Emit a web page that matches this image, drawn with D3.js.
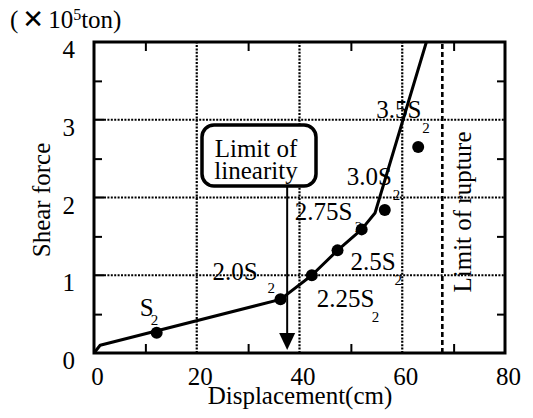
<!DOCTYPE html>
<html>
<head>
<meta charset="utf-8">
<script src="https://cdn.jsdelivr.net/npm/d3@7/dist/d3.min.js"></script>
<style>
body{margin:0;background:#fff}
text{font-family:"Liberation Serif","Times New Roman",serif;fill:#000}
</style>
</head>
<body>
<div id="chart"></div>
<script>

// -----------------------------
// DATA
// -----------------------------

const xTicks = [0,20,40,60,80]
const yTicks = [0,1,2,3,4]
const xMinor = [10,30,50,70]
const yMinor = [0.5,1.5,2.5,3.5]
const xGrid = [20,40,60]
const yGrid = [1,2,3]

// load curve
const curveX = [0,1.2,36.3,42.4,47.4,52.1,54.7,64.7]
const curveY = [0,0.10,0.69,1.00,1.32,1.59,1.80,4.0]

// measured points
const pointLabel = ["S","2.0S","2.25S","2.5S","2.75S","3.0S","3.5S"]
const pointX = [12.2,36.3,42.4,47.4,52.1,56.6,63.1]
const pointY = [0.26,0.69,1.00,1.32,1.59,1.84,2.65]

const linearityX = 37.6
const ruptureX = 67.8

// label offsets in px from each point: [textDx,textDy,subDx,subDy]
const labelOffset = [
[-17,-17,-6,-8],
[-68,-19,-13,-6],
[5,32,60,47],
[13,20,57,35],
[-67,-9,-7,3],
[-38,-25,8,-10],
[-42,-29,4,-14]
]


// -----------------------------
// CHART
// -----------------------------

const width = 533
const height = 418
const serif = "'Liberation Serif','Times New Roman',serif"

const svg = d3.select("#chart")
.append("svg")
.attr("width",width)
.attr("height",height)

const x = d3.scaleLinear()
.domain([0,80])
.range([94,505])

const y = d3.scaleLinear()
.domain([0,4])
.range([353,42])


// GRID (dotted)

svg.selectAll(".gx")
.data(xGrid)
.enter()
.append("line")
.attr("x1",d=>x(d)).attr("x2",d=>x(d))
.attr("y1",y(0)).attr("y2",y(4))
.attr("stroke","#000")
.attr("stroke-width",2.2)
.attr("stroke-dasharray","2,1.4")

svg.selectAll(".gy")
.data(yGrid)
.enter()
.append("line")
.attr("x1",x(0)+10).attr("x2",x(80))
.attr("y1",d=>y(d)).attr("y2",d=>y(d))
.attr("stroke","#000")
.attr("stroke-width",2.2)
.attr("stroke-dasharray","2,1.4")

// solid short ticks on left at integers
svg.selectAll(".ty")
.data(yGrid)
.enter()
.append("line")
.attr("x1",x(0)).attr("x2",x(0)+10)
.attr("y1",d=>y(d)).attr("y2",d=>y(d))
.attr("stroke","#000")
.attr("stroke-width",2.2)


// MINOR TICKS (inward, all four sides)

const minorStyle = g=>{
g.select(".domain").remove()
g.selectAll(".tick line").attr("stroke","#000").attr("stroke-width",2)
g.selectAll(".tick text").remove()
}

svg.append("g")
.attr("transform",`translate(0,${y(0)})`)
.call(d3.axisBottom(x).tickValues(xMinor).tickSize(-9))
.call(minorStyle)

svg.append("g")
.attr("transform",`translate(0,${y(4)})`)
.call(d3.axisTop(x).tickValues(xMinor).tickSize(-9))
.call(minorStyle)

svg.append("g")
.attr("transform",`translate(${x(0)},0)`)
.call(d3.axisLeft(y).tickValues(yMinor).tickSize(-8))
.call(minorStyle)

svg.append("g")
.attr("transform",`translate(${x(80)},0)`)
.call(d3.axisRight(y).tickValues(yMinor).tickSize(-8))
.call(minorStyle)


// TICK LABELS

const labelStyle = g=>{
g.attr("font-family",serif).attr("font-size",25)
g.select(".domain").remove()
g.selectAll(".tick line").remove()
g.selectAll(".tick text").attr("fill","#000")
}

svg.append("g")
.call(d3.axisBottom(x).tickValues(xTicks).tickFormat(d3.format("d")).tickSize(0).tickPadding(14))
.attr("transform",`translate(0,${y(0)})`)
.call(labelStyle)
.selectAll(".tick text").attr("dx",3)

svg.append("g")
.call(d3.axisLeft(y).tickValues(yTicks).tickFormat(d3.format("d")).tickSize(0).tickPadding(19))
.attr("transform",`translate(${x(0)},0)`)
.call(labelStyle)
.selectAll(".tick text").attr("dy","0.62em")


// RUPTURE LINE (dashed)

svg.append("line")
.attr("x1",x(ruptureX)).attr("x2",x(ruptureX))
.attr("y1",y(0)).attr("y2",y(4))
.attr("stroke","#000")
.attr("stroke-width",2.6)
.attr("stroke-dasharray","5,3")

svg.append("text")
.attr("transform",`translate(471,212) rotate(-90)`)
.attr("text-anchor","middle")
.style("font-size","25px")
.text("Limit of rupture")


// FRAME

svg.append("rect")
.attr("x",x(0)).attr("y",y(4))
.attr("width",x(80)-x(0))
.attr("height",y(0)-y(4))
.attr("fill","none")
.attr("stroke","#000")
.attr("stroke-width",3)


// POINT LABELS (drawn under the dots)

const lab = svg.selectAll(".plab")
.data(pointLabel)
.enter()
.append("g")

lab.append("text")
.attr("x",(d,i)=>x(pointX[i])+labelOffset[i][0])
.attr("y",(d,i)=>y(pointY[i])+labelOffset[i][1])
.style("font-size","25px")
.text(d=>d)

lab.append("text")
.attr("x",(d,i)=>x(pointX[i])+labelOffset[i][2])
.attr("y",(d,i)=>y(pointY[i])+labelOffset[i][3])
.style("font-size","15px")
.text("2")


// CURVE

const curve = curveX.map((d,i)=>({x:d,y:curveY[i]}))

svg.append("path")
.datum(curve)
.attr("fill","none")
.attr("stroke","#000")
.attr("stroke-width",3)
.attr("stroke-linejoin","round")
.attr("d",d3.line().x(d=>x(d.x)).y(d=>y(d.y)))


// POINTS

svg.selectAll(".pt")
.data(pointX)
.enter()
.append("circle")
.attr("cx",d=>x(d))
.attr("cy",(d,i)=>y(pointY[i]))
.attr("r",6)
.attr("fill","#000")


// LIMIT OF LINEARITY BOX + ARROW

svg.append("rect")
.attr("x",202).attr("y",125)
.attr("width",114).attr("height",61)
.attr("rx",12)
.attr("fill","#fff")
.attr("stroke","#000")
.attr("stroke-width",3.5)

svg.append("text")
.attr("x",256).attr("y",157)
.attr("text-anchor","middle")
.style("font-size","25px")
.text("Limit of")

svg.append("text")
.attr("x",256).attr("y",179)
.attr("text-anchor","middle")
.style("font-size","25px")
.text("linearity")

const ax = x(linearityX)
const tip = y(0.04)

svg.append("line")
.attr("x1",ax).attr("x2",ax)
.attr("y1",187).attr("y2",tip-14)
.attr("stroke","#000")
.attr("stroke-width",2)

svg.append("path")
.attr("d",`M${ax-8},${tip-17}L${ax+8},${tip-17}L${ax},${tip}Z`)
.attr("fill","#000")


// AXIS TITLES

svg.append("text")
.attr("x",300).attr("y",404)
.attr("text-anchor","middle")
.style("font-size","25px")
.text("Displacement(cm)")

svg.append("text")
.attr("transform",`translate(50,200) rotate(-90)`)
.attr("text-anchor","middle")
.style("font-size","25px")
.text("Shear force")

const unit = svg.append("text")
.attr("x",10).attr("y",28)
.style("font-size","25px")

unit.append("tspan").text("(")
unit.append("tspan")
.attr("dx",4)
.style("font-family","'DejaVu Sans',sans-serif")
.style("font-weight","bold")
.style("font-size","26px")
.text("\u2715")
unit.append("tspan").attr("dx",4).text("10")
unit.append("tspan")
.attr("dy",-8)
.style("font-size","16px")
.text("5")
unit.append("tspan").attr("dy",8).text("ton)")

</script>
</body>
</html>
